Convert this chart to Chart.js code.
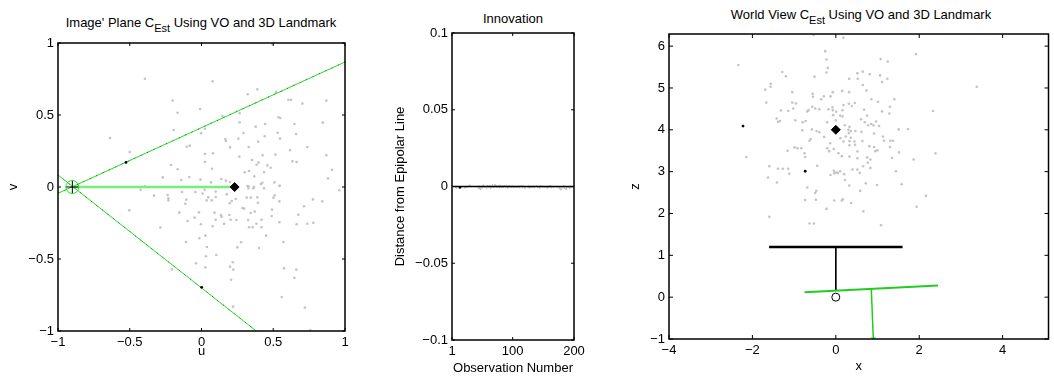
<!DOCTYPE html>
<html>
<head>
<meta charset="utf-8">
<script src="https://cdn.jsdelivr.net/npm/chart.js@4.4.0/dist/chart.umd.min.js"></script>
<style>
  body { margin: 0; background: #fff; width: 1054px; height: 376px; overflow: hidden; position: relative;
         font-family: "Liberation Sans", Arial, sans-serif; }
  canvas { position: absolute; top: 0; }
  .title { position: absolute; white-space: nowrap; font-size: 13px; line-height: 15px; color: #000;
           transform: translateX(-50%); }
  .title span { font-size: 11px; position: relative; top: 5px; }
</style>
</head>
<body>
<div class="title" style="left:201px;top:15px">Image' Plane C<span>Est</span> Using VO and 3D Landmark</div>
<div class="title" style="left:513px;top:11px">Innovation</div>
<div class="title" style="left:861px;top:7px">World View C<span>Est</span> Using VO and 3D Landmark</div>
<canvas id="imageChart" width="360" height="376" style="left:0"></canvas>
<canvas id="innovChart" width="260" height="376" style="left:360px"></canvas>
<canvas id="worldChart" width="434" height="376" style="left:620px"></canvas>
<script>
// ---- image plane (u, v) ----
const imageTicks = [-1, -0.5, 0, 0.5, 1];
const imagePoints = [
  [-0.394,0.752],[0.078,0.734],[-0.201,0.600],[-0.010,0.542],[-0.166,0.516],[-0.194,0.396],[0.024,0.405],
  [-0.003,0.373],[0.145,0.493],[0.166,0.333],[0.170,0.319],[0.199,0.275],[-0.103,0.280],[-0.082,0.287],
  [-0.500,0.243],[0.024,0.229],[0.080,0.234],[0.024,0.174],[-0.213,0.153],[-0.166,0.123],[0.073,0.127],
  [-0.270,0.067],[-0.141,0.049],[-0.085,0.069],[-0.007,0.051],[0.066,0.032],[0.138,0.056],[0.170,0.044],
  [0.199,0.035],[-0.394,0.005],[-0.638,0.340],
  [0.494,0.993],[0.389,0.678],[0.322,0.644],[0.519,0.660],[0.605,0.606],[0.624,0.606],[0.703,0.579],
  [0.870,0.600],[0.266,0.512],[0.537,0.484],[0.549,0.479],[0.266,0.449],[0.378,0.419],[0.443,0.438],
  [0.647,0.438],[0.845,0.447],[0.292,0.375],[0.531,0.377],[0.659,0.368],[0.257,0.336],[0.440,0.352],
  [0.547,0.336],[0.395,0.315],[0.329,0.278],[0.737,0.278],[0.617,0.255],[0.264,0.211],[0.426,0.220],
  [0.515,0.225],[0.870,0.220],[0.352,0.188],[0.398,0.171],[0.384,0.155],[0.459,0.150],[0.482,0.134],
  [0.633,0.178],[0.663,0.174],[0.301,0.102],[0.331,0.111],[0.436,0.102],[0.909,0.120],[0.368,0.074],
  [0.882,0.060],[0.424,0.030],[0.414,0.021],[0.508,0.032],[0.545,0.009],[0.327,0.005],[0.366,0.000],
  [-0.424,-0.019],[-0.331,-0.060],[-0.236,-0.056],[-0.231,-0.079],[-0.231,-0.093],[-0.136,-0.035],
  [-0.106,-0.088],[-0.113,-0.116],[-0.043,-0.035],[0.008,-0.046],[0.022,-0.019],[0.047,-0.072],
  [0.036,-0.093],[0.099,-0.032],[0.099,-0.069],[0.071,-0.093],[0.176,-0.051],[0.197,-0.113],
  [0.211,-0.097],[-0.503,-0.162],[-0.155,-0.178],[-0.018,-0.176],[-0.048,-0.213],[-0.097,-0.236],
  [-0.004,-0.259],[0.091,-0.178],[0.136,-0.194],[0.140,-0.206],[0.099,-0.227],[0.194,-0.194],
  [0.203,-0.227],[0.157,-0.255],[0.077,-0.273],[-0.287,-0.282],[-0.015,-0.356],[0.027,-0.338],
  [-0.108,-0.382],[0.038,-0.417],[0.103,-0.472],[0.031,-0.481],[-0.038,-0.530],[0.027,-0.558],
  [-0.206,-0.572],[0.218,-0.523],[0.199,-0.553],[0.206,-0.644],[0.220,-0.831],
  [0.320,0.007],[0.327,-0.009],[0.361,-0.009],[0.436,-0.009],[0.543,0.007],[0.960,-0.023],[0.315,-0.074],
  [0.343,-0.074],[0.238,-0.083],[0.389,-0.072],[0.394,-0.109],[0.501,-0.074],[0.510,-0.058],[0.543,-0.100],
  [0.777,-0.086],[0.842,-0.100],[0.285,-0.146],[0.297,-0.150],[0.343,-0.181],[0.371,-0.171],[0.491,-0.157],
  [0.714,-0.134],[0.243,-0.229],[0.325,-0.229],[0.418,-0.227],[0.489,-0.201],[0.675,-0.192],[0.383,-0.255],
  [0.332,-0.280],[0.357,-0.280],[0.418,-0.280],[0.543,-0.245],[0.663,-0.259],[0.737,-0.255],[0.779,-0.248],
  [0.450,-0.338],[0.276,-0.384],[0.250,-0.419],[0.401,-0.424],[0.571,-0.382],[0.222,-0.574],[0.575,-0.565],
  [0.661,-0.574],[0.647,-0.630],[0.559,-0.764],[0.720,-0.838],[0.758,-0.995]
];
const epipole = [-0.90, 0.0];
const landmarkImage = [0.231, 0.0];
const epiLineUpper = [[-1, -0.044], [1, 0.868]];
const epiLineLower = [[-1, 0.083], [0.382, -1]];
const imageBlackDots = [[-0.526, 0.171], [0.001, -0.697]];

// ---- innovation ----
const innovTicksX = [1, 100, 200];
const innovTicksY = [-0.1, -0.05, 0, 0.05, 0.1];
const innovation = [
  0.0002,-0.0003,0.0001,-0.0002,0.0003,-0.0001,-0.0009,-0.0012,-0.0004,0.0002,
  0.0001,-0.0003,0.0002,-0.0004,-0.0002,0.0001,-0.0003,-0.0006,-0.0002,0.0003,
  -0.0002,-0.0011,-0.0008,0.0002,-0.0010,-0.0004,0.0001,-0.0002,0.0009,0.0012,
  0.0002,-0.0001,-0.0003,0.0002,0.0001,-0.0002,0.0003,-0.0001,0.0002,-0.0003,
  0.0001,-0.0002,0.0004,-0.0010,-0.0016,0.0006,-0.0022,-0.0008,0.0003,-0.0011,
  0.0002,0.0011,-0.0004,-0.0009,0.0003,-0.0003,-0.0012,0.0002,0.0008,-0.0002,
  -0.0007,0.0010,0.0003,-0.0013,0.0002,-0.0006,0.0013,-0.0002,-0.0010,0.0004,
  0.0016,-0.0004,-0.0008,0.0009,-0.0003,-0.0007,0.0006,-0.0010,0.0011,0.0003,
  -0.0009,0.0002,0.0008,-0.0006,-0.0011,0.0004,0.0010,-0.0003,-0.0008,0.0007,
  -0.0002,-0.0012,0.0005,0.0009,-0.0006,-0.0004,0.0003,-0.0009,0.0006,-0.0003,
  -0.0010,0.0004,-0.0002,-0.0008,0.0006,-0.0003,-0.0009,0.0002,0.0007,-0.0005,
  -0.0011,0.0003,-0.0002,0.0008,-0.0007,-0.0010,0.0004,0.0002,-0.0006,-0.0012,
  0.0003,0.0001,-0.0003,0.0002,-0.0009,0.0005,-0.0002,-0.0011,0.0003,0.0001,
  -0.0007,-0.0002,0.0006,-0.0004,-0.0010,0.0002,0.0001,-0.0003,0.0008,-0.0002,
  -0.0009,0.0003,-0.0004,-0.0012,0.0002,0.0007,-0.0003,-0.0008,0.0002,-0.0002,
  0.0001,-0.0010,-0.0005,0.0003,-0.0002,-0.0013,0.0004,0.0002,-0.0007,-0.0003,
  0.0008,-0.0004,-0.0011,0.0002,0.0001,-0.0003,-0.0009,0.0003,-0.0002,0.0001,
  -0.0006,-0.0003,0.0002,-0.0010,-0.0004,0.0002,-0.0015,-0.0024,-0.0020,0.0003,
  -0.0009,-0.0003,0.0006,-0.0012,-0.0005,-0.0018,-0.0022,0.0002,-0.0007,-0.0003,
  0.0002,-0.0014,-0.0009,0.0004,-0.0011,-0.0006,0.0001,-0.0004,-0.0002,0.0001
];
const innovBlackDot = [14, -0.0006];

// ---- world view (x, z) ----
const worldTicksX = [-4, -2, 0, 2, 4];
const worldTicksY = [-1, 0, 1, 2, 3, 4, 5, 6];
const worldPoints = [
  [-0.534,6.27],[-2.337,5.55],[-0.255,5.88],[-0.223,5.68],[-0.191,5.48],[-0.223,5.37],[-1.284,5.38],
  [-1.196,5.28],[-0.510,5.27],[-1.563,5.10],[-1.563,5.03],[-1.690,4.96],[-1.045,4.90],[-0.557,4.86],
  [-0.549,4.79],[-0.072,4.90],[-0.128,4.80],[-0.287,4.80],[-0.351,4.73],[-1.666,4.65],[-1.045,4.65],
  [-0.957,4.63],[-1.021,4.51],[-0.565,4.55],[-0.494,4.51],[-0.398,4.49],[-0.653,4.47],[-0.685,4.44],
  [-1.141,4.45],[-1.316,4.46],[-0.080,4.54],[-0.072,4.47],[-0.175,4.49],[0.008,4.43],[-0.064,4.35],
  [0.000,4.23],[-1.419,4.27],[-1.339,4.21],[-1.387,4.19],[-0.973,4.23],[-0.797,4.18],[-0.725,4.21],
  [-0.207,4.18],[-0.805,3.99],[-0.573,4.01],[-0.462,3.97],[-0.398,3.94],[-0.279,3.83],[-0.605,3.78],
  [-0.629,3.74],[-0.136,3.68],[-0.207,3.56],[-0.160,3.49],[-0.048,3.54],[-0.989,3.58],[-0.917,3.56],
  [-0.829,3.56],[-1.156,3.50],[-0.750,3.44],[-0.734,3.35],[-2.145,3.35],[-0.447,3.14],[-1.595,3.13],
  [-1.387,3.07],[-1.268,3.07],[-1.141,3.07],[-1.117,2.95],[-1.626,2.86],[-0.128,2.92],[-0.040,2.96],
  [0.008,2.98],[-0.048,3.02],[-1.411,2.74],[-0.685,2.62],[-0.470,2.54],[-0.494,2.49],[-0.734,2.32],
  [-0.478,2.33],[-0.040,2.31],[-0.223,2.11],[-1.595,1.92],[-0.629,1.76],[-0.525,1.76],
  [0.18,6.20],[1.92,5.81],[1.077,5.69],[1.244,5.63],[3.38,5.03],[0.518,5.35],[0.646,5.39],[0.813,5.33],
  [1.061,5.30],[1.236,5.22],[1.109,5.14],[0.319,5.22],[0.526,5.22],[0.646,5.07],[0.734,4.94],[0.152,4.93],
  [0.319,4.90],[0.853,4.73],[1.013,4.67],[1.404,4.73],[0.184,4.59],[0.311,4.62],[0.383,4.57],[0.455,4.64],
  [1.300,4.55],[0.678,4.48],[0.160,4.47],[1.109,4.44],[1.284,4.39],[2.33,4.45],[0.104,4.34],[0.160,4.32],
  [0.750,4.34],[0.606,4.25],[0.694,4.18],[0.774,4.11],[0.845,4.14],[0.901,4.11],[0.965,4.20],[1.037,4.09],
  [0.215,4.11],[0.327,4.07],[1.507,4.01],[1.731,4.02],[0.303,4.00],[0.359,3.97],[0.470,3.97],[0.614,3.95],
  [0.917,3.91],[0.311,3.92],[0.239,3.84],[0.359,3.81],[0.112,3.80],[0.184,3.72],[0.327,3.73],[0.446,3.72],
  [0.462,3.64],[0.327,3.63],[0.638,3.73],[1.132,3.84],[1.156,3.74],[1.308,3.74],[1.372,3.74],[0.805,3.61],
  [0.917,3.59],[0.997,3.51],[0.949,3.49],[1.300,3.59],[1.515,3.46],[0.064,3.44],[0.144,3.37],[0.327,3.36],
  [0.518,3.48],[0.518,3.32],[0.750,3.34],[0.829,3.29],[0.766,3.21],[1.348,3.33],[1.866,3.29],[2.39,3.44],
  [0.654,3.13],[0.829,3.09],[0.399,3.05],[0.518,3.05],[0.574,2.97],[0.104,3.01],[0.048,2.97],[0.199,2.94],
  [1.443,3.01],[0.223,2.80],[0.718,2.72],[0.989,2.68],[1.579,2.70],[0.319,2.67],[0.582,2.54],[2.16,2.42],
  [0.168,2.34],[0.144,2.31],[0.367,2.25],[1.938,2.16],[0.662,2.05],[1.085,1.72]
];
const worldBlackDots = [[-2.225, 4.09], [-0.734, 3.01]];
const landmarkWorld = [0, 4.0];
const camTrue = [0, 0];
const camTrueBar = [[-1.6, 1.2], [1.6, 1.2]];
const camTrueStem = [[0, 1.2], [0, 0.15]];
const camEstBar = [[-0.75, 0.12], [2.45, 0.28]];
const camEstStem = [[0.85, 0.2], [0.9, -1]];
const camEst = [0.9, -1];

const FONT = { family: '"Liberation Sans", Arial, sans-serif', size: 13 };
const pts = arr => arr.map(p => ({ x: p[0], y: p[1] }));
const minus = v => String(v).replace('-', '\u2212');

// frame with inward ticks on all four sides, like a boxed matlab axes
const boxTicks = {
  id: 'boxTicks',
  afterDatasetsDraw(chart, args, opts) {
    const { ctx, chartArea: a, scales } = chart;
    const len = opts.len || 3;
    ctx.save();
    ctx.strokeStyle = '#000';
    ctx.lineWidth = 1;
    ctx.beginPath();
    scales.x.ticks.forEach(t => {
      const px = scales.x.getPixelForValue(t.value);
      ctx.moveTo(px, a.bottom); ctx.lineTo(px, a.bottom - len);
      ctx.moveTo(px, a.top); ctx.lineTo(px, a.top + len);
    });
    scales.y.ticks.forEach(t => {
      const py = scales.y.getPixelForValue(t.value);
      ctx.moveTo(a.left, py); ctx.lineTo(a.left + len, py);
      ctx.moveTo(a.right, py); ctx.lineTo(a.right - len, py);
    });
    ctx.stroke();
    ctx.lineWidth = 1.5;
    ctx.strokeRect(a.left, a.top, a.right - a.left, a.bottom - a.top);
    ctx.restore();
  }
};

function scale(min, max, ticks, title, size) {
  return {
    type: 'linear', min: min, max: max,
    grid: { display: false, drawTicks: false },
    border: { display: false },
    afterBuildTicks: s => { s.ticks = ticks.map(v => ({ value: v })); },
    afterFit: s => {
      if (s.isHorizontal()) s.height = size; else s.width = size;
      s.paddingLeft = s.paddingRight = s.paddingTop = s.paddingBottom = 0;
    },
    ticks: { autoSkip: false, maxRotation: 0, padding: 4, color: '#000', font: FONT, callback: minus },
    title: { display: true, text: title, padding: 0, color: '#000', font: FONT }
  };
}

function baseOptions(scales, padding, len) {
  return {
    responsive: false,
    animation: false,
    layout: { padding: padding },
    scales: scales,
    plugins: { legend: { display: false }, tooltip: { enabled: false }, boxTicks: { len: len } }
  };
}

const GRAY = '#c4c4c4';
const GREEN = '#22dd22';

new Chart(document.getElementById('imageChart'), {
  type: 'scatter',
  data: {
    datasets: [
      { data: pts([epipole]), pointStyle: 'circle', pointRadius: 6.5, borderColor: GREEN, borderWidth: 1,
        backgroundColor: 'rgba(0,0,0,0)', order: 1 },
      { data: pts([epipole]), pointStyle: 'cross', pointRadius: 6.5, borderColor: '#000', borderWidth: 1, order: 2 },
      { data: pts([landmarkImage]), pointStyle: 'rectRot', pointRadius: 4.5, backgroundColor: '#000',
        borderColor: '#000', borderWidth: 1, order: 1 },
      { data: pts(imageBlackDots), pointRadius: 1.4, backgroundColor: '#000', borderWidth: 0, order: 1 },
      // dark specks along the epipolar lines
      { data: pts(epiLineUpper), showLine: true, pointRadius: 0, borderColor: 'rgba(0,0,0,0.55)', borderWidth: 1,
        borderDash: [1, 6], order: 2 },
      { data: pts(epiLineLower), showLine: true, pointRadius: 0, borderColor: 'rgba(0,0,0,0.55)', borderWidth: 1,
        borderDash: [1, 6], order: 2 },
      { data: pts(epiLineUpper), showLine: true, pointRadius: 0, borderColor: GREEN, borderWidth: 1, order: 3 },
      { data: pts(epiLineLower), showLine: true, pointRadius: 0, borderColor: GREEN, borderWidth: 1, order: 3 },
      { data: pts([epipole, landmarkImage]), showLine: true, pointRadius: 0, borderColor: '#77ee77',
        borderWidth: 2.5, order: 3 },
      { data: pts(imagePoints), pointRadius: 1.3, backgroundColor: GRAY, borderWidth: 0, order: 10 }
    ]
  },
  options: baseOptions({ x: scale(-1, 1, imageTicks, 'u', 28), y: scale(-1, 1, imageTicks, 'v', 52) },
    { left: 6, right: 15, top: 43, bottom: 17 }, 3),
  plugins: [boxTicks]
});

new Chart(document.getElementById('innovChart'), {
  type: 'scatter',
  data: {
    datasets: [
      { data: pts([innovBlackDot]), pointRadius: 1.4, backgroundColor: '#000', borderWidth: 0, order: 1 },
      { data: pts([[1, 0], [200, 0]]), showLine: true, pointRadius: 0, borderColor: '#000', borderWidth: 1.6, order: 2 },
      { data: innovation.map((v, i) => ({ x: i + 1, y: v })), showLine: true, pointRadius: 0,
        borderColor: '#bdbdbd', borderWidth: 1, order: 3 }
    ]
  },
  options: baseOptions({
      x: scale(1, 200, innovTicksX, 'Observation Number', 36),
      y: scale(-0.1, 0.1, innovTicksY, 'Distance from Epipolar Line', 59) },
    { left: 33, right: 46, top: 33, bottom: 0 }, 3),
  plugins: [boxTicks]
});

new Chart(document.getElementById('worldChart'), {
  type: 'scatter',
  data: {
    datasets: [
      { data: pts([landmarkWorld]), pointStyle: 'rectRot', pointRadius: 4.5, backgroundColor: '#000',
        borderColor: '#000', borderWidth: 1, order: 1 },
      { data: pts(worldBlackDots), pointRadius: 1.4, backgroundColor: '#000', borderWidth: 0, order: 1 },
      { data: pts([camTrue]), pointStyle: 'circle', pointRadius: 4, borderColor: '#000', borderWidth: 1,
        backgroundColor: 'rgba(0,0,0,0)', order: 1 },
      { data: pts([camEst]), pointStyle: 'crossRot', pointRadius: 3, borderColor: GREEN, borderWidth: 1, order: 1 },
      { data: pts(camEstBar), showLine: true, pointRadius: 0, borderColor: '#22cc22', borderWidth: 2, order: 2 },
      { data: pts(camEstStem), showLine: true, pointRadius: 0, borderColor: '#22cc22', borderWidth: 1.5, order: 2 },
      { data: pts(camTrueBar), showLine: true, pointRadius: 0, borderColor: '#000', borderWidth: 2.5, order: 3 },
      { data: pts(camTrueStem), showLine: true, pointRadius: 0, borderColor: '#000', borderWidth: 1, order: 3 },
      { data: pts(worldPoints), pointRadius: 1.3, backgroundColor: GRAY, borderWidth: 0, order: 10 }
    ]
  },
  options: baseOptions({
      x: scale(-4, 5.1, worldTicksX, 'x', 35),
      y: scale(-1, 6.29, worldTicksY, 'z', 41) },
    { left: 8, right: 1, top: 34, bottom: 2 }, 4),
  plugins: [boxTicks]
});
</script>
</body>
</html>
